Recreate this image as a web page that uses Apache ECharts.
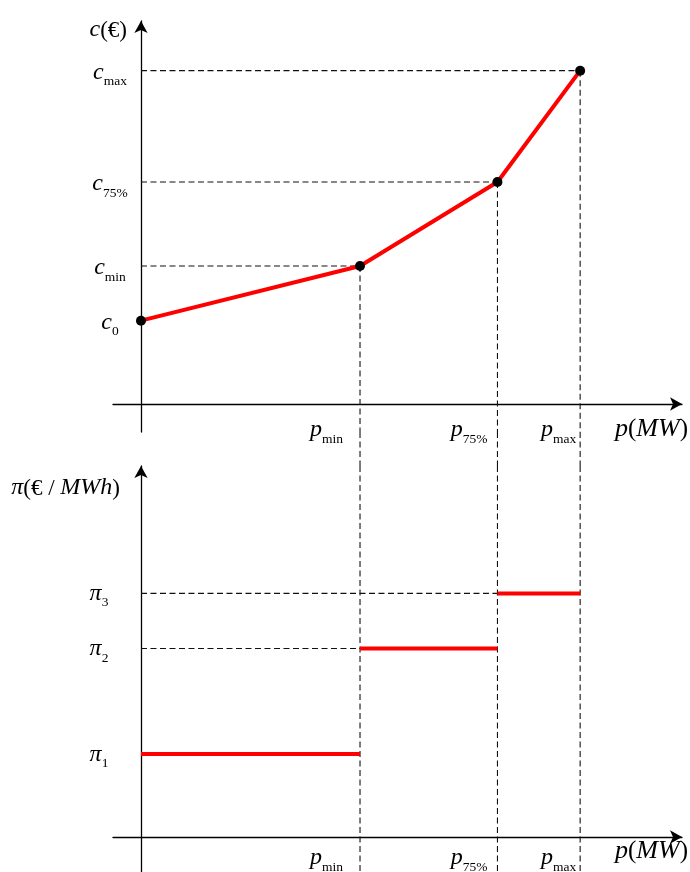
<!DOCTYPE html>
<html><head><meta charset="utf-8">
<script src="https://cdn.jsdelivr.net/npm/echarts@6/dist/echarts.min.js"></script>
<style>html,body{margin:0;padding:0;background:#fff}#c{width:690px;height:872px}</style>
</head><body><div id="c"></div>
<script>
// ---- data ----
const pSubs   = ['min', '75%', 'max'];      // p_min, p_75%, p_max
const pValues = [40, 65.1, 80.2];
const c0Value = 25;                         // c_0 at p = 0
const cSubs   = ['min', '75%', 'max'];      // c_min, c_75%, c_max
const cValues = [41.4, 66.6, 100];
const piSubs  = ['1', '2', '3'];            // π1, π2, π3
const piValues = [29.6, 67.3, 87.0];

// ---- axis ranges ----
const xMin = -5.11, xMax = 98.8;
const yTopMin = -8.4, yTopMax = 114.9;
const yBotMin = -12.5, yBotMax = 132.5;

const FONT = 'Liberation Serif';
const sub = (r) => ({fontFamily: FONT, fontSize: 13.5, color: '#000', verticalAlign: 'bottom', padding: [0, r, 0, 0]});
const rich = {
  i: {fontFamily: FONT, fontStyle: 'italic', fontSize: 24, color: '#000', verticalAlign: 'bottom', padding: [0, 0, 4, 0]},
  s: sub(0), s0: sub(17), s1: sub(10), s2: sub(4),
  u: {fontFamily: FONT, fontSize: 23, color: '#000', verticalAlign: 'bottom'},
  n: {fontFamily: FONT, fontStyle: 'italic', fontSize: 24, color: '#000', verticalAlign: 'bottom'},
  U: {fontFamily: FONT, fontSize: 25, color: '#000', verticalAlign: 'bottom'},
  N: {fontFamily: FONT, fontStyle: 'italic', fontSize: 26, color: '#000', verticalAlign: 'bottom'}
};

const axisLineStyle = {color: '#000', width: 1.3};
const dash = {color: '#111', width: 1.1, type: [6, 3.5]};
const RED = '#ff0000';

function xAxisCfg(grid, labelMargin, namePad) {
  return {
    type: 'value', gridIndex: grid, min: xMin, max: xMax,
    axisLine: {show: true, onZero: true, symbol: ['none', 'arrow'], symbolSize: [10, 12], lineStyle: axisLineStyle},
    axisTick: {show: false}, splitLine: {show: false},
    axisLabel: {
      customValues: pValues, margin: labelMargin, align: 'right', rich: rich,
      formatter: v => { const k = pValues.indexOf(v); return '{i|p}{s' + k + '|' + pSubs[k] + '}'; }
    },
    name: '{N|p}{U|(}{N|MW}{U|)}', nameLocation: 'end', nameGap: 6,
    nameTextStyle: {align: 'right', verticalAlign: 'top', padding: [namePad, 0, 0, 0], rich: rich}
  };
}

const guide = (grid, data) => ({
  type: 'line', xAxisIndex: grid, yAxisIndex: grid, data: data, symbol: 'none',
  lineStyle: dash, z: 1, silent: true, animation: false
});
const redSeg = (grid, data) => ({
  type: 'line', xAxisIndex: grid, yAxisIndex: grid, data: data, symbol: 'none',
  lineStyle: {color: RED, width: 4}, z: 3, silent: true, animation: false
});

const series = [];
// top panel guides
pValues.forEach((p, k) => {
  series.push(guide(0, [[0, cValues[k]], [p, cValues[k]]]));
  series.push(guide(0, [[p, cValues[k]], [p, yTopMin]]));
  series.push(guide(1, [[p, 1], [p, 0]]));
  series.push(guide(2, [[p, yBotMax], [p, yBotMin]]));
});
// cost curve
series.push({
  type: 'line', xAxisIndex: 0, yAxisIndex: 0,
  data: [[0, c0Value]].concat(pValues.map((p, k) => [p, cValues[k]])),
  symbol: 'circle', symbolSize: 10, showSymbol: true,
  itemStyle: {color: '#000'}, lineStyle: {color: RED, width: 4},
  z: 5, silent: true, animation: false
});
// bottom panel guides to π2, π3
series.push(guide(2, [[0, piValues[1]], [pValues[0], piValues[1]]]));
series.push(guide(2, [[0, piValues[2]], [pValues[1], piValues[2]]]));
// price steps
const stepStarts = [0, pValues[0], pValues[1]];
const stepEnds = [pValues[0], pValues[1], pValues[2]];
piValues.forEach((v, k) => series.push(redSeg(2, [[stepStarts[k], v], [stepEnds[k], v]])));

const option = {
  backgroundColor: '#fff',
  animation: false,
  grid: [
    {left: 113, top: 21, width: 569, height: 411, outerBoundsMode: 'none'},
    {left: 113, top: 432, width: 569, height: 34, outerBoundsMode: 'none'},
    {left: 113, top: 466, width: 569, height: 406, outerBoundsMode: 'none'}
  ],
  xAxis: [
    xAxisCfg(0, -14, 12),
    {type: 'value', gridIndex: 1, min: xMin, max: xMax, show: false},
    xAxisCfg(2, -26, 1)
  ],
  yAxis: [
    {
      type: 'value', gridIndex: 0, min: yTopMin, max: yTopMax,
      axisLine: {show: true, onZero: true, symbol: ['none', 'arrow'], symbolSize: [10, 12], lineStyle: axisLineStyle},
      axisTick: {show: false}, splitLine: {show: false},
      axisLabel: {
        customValues: [c0Value].concat(cValues), margin: 3, align: 'center', rich: rich,
        padding: [8, 0, 0, 0],
        formatter: v => v === c0Value ? '{i|c}{s|0}' : '{i|c}{s|' + cSubs[cValues.indexOf(v)] + '}'
      },
      name: '{n|c}{u|(€)}', nameLocation: 'end', nameGap: -9,
      nameTextStyle: {align: 'right', verticalAlign: 'middle', padding: [0, 14, 0, 0], rich: rich}
    },
    {type: 'value', gridIndex: 1, min: 0, max: 1, show: false},
    {
      type: 'value', gridIndex: 2, min: yBotMin, max: yBotMax,
      axisLine: {show: true, onZero: true, symbol: ['none', 'arrow'], symbolSize: [10, 12], lineStyle: axisLineStyle},
      axisTick: {show: false}, splitLine: {show: false},
      axisLabel: {
        customValues: piValues, margin: 14, align: 'center', rich: rich,
        padding: [5, 0, 0, 0],
        formatter: v => '{i|π}{s|' + piSubs[piValues.indexOf(v)] + '}'
      },
      name: '{n|π}{u|(€ / }{n|MWh}{u|)}', nameLocation: 'end', nameGap: -22,
      nameTextStyle: {align: 'right', verticalAlign: 'middle', padding: [0, 21, 0, 0], rich: rich}
    }
  ],
  series: series
};

const chart = echarts.init(document.getElementById('c'), null, {renderer: 'canvas'});
chart.setOption(option);
</script>
</body></html>
